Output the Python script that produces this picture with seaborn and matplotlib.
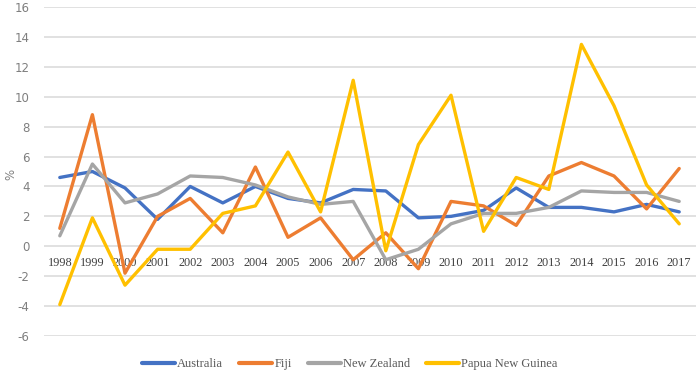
import pandas as pd
import matplotlib.pyplot as plt
import seaborn as sns

years = list(range(1998, 2018))
australia = [4.6, 5.0, 3.9, 1.8, 4.0, 2.9, 4.0, 3.2, 2.9, 3.8, 3.7, 1.9, 2.0, 2.4, 3.9, 2.6, 2.6, 2.3, 2.8, 2.3]
fiji = [1.2, 8.8, -1.8, 2.0, 3.2, 0.9, 5.3, 0.6, 1.9, -0.9, 0.9, -1.5, 3.0, 2.7, 1.4, 4.7, 5.6, 4.7, 2.5, 5.2]
new_zealand = [0.7, 5.5, 2.9, 3.5, 4.7, 4.6, 4.1, 3.3, 2.8, 3.0, -0.9, -0.2, 1.5, 2.2, 2.2, 2.6, 3.7, 3.6, 3.6, 3.0]
png = [-3.9, 1.9, -2.6, -0.2, -0.2, 2.2, 2.7, 6.3, 2.3, 11.1, -0.3, 6.8, 10.1, 1.0, 4.6, 3.8, 13.5, 9.4, 4.1, 1.5]

countries = ["Australia", "Fiji", "New Zealand", "Papua New Guinea"]
colors = ["#4472C4", "#ED7D31", "#A5A5A5", "#FFC000"]

df = pd.DataFrame({"year": years, "Australia": australia, "Fiji": fiji,
                   "New Zealand": new_zealand, "Papua New Guinea": png})
long_df = df.melt(id_vars="year", var_name="country", value_name="value")

sns.set_style("white")
plt.rcParams["axes.unicode_minus"] = False
fig = plt.figure(figsize=(7, 3.75), dpi=100)
ax = fig.add_axes([43.5 / 700, 1 - 336 / 375, (695.5 - 43.5) / 700, (336 - 7) / 375])

sns.lineplot(data=long_df, x="year", y="value", hue="country", hue_order=countries,
             palette=colors, linewidth=2.4, ax=ax, legend=True)

ax.set_xlim(1997.5, 2017.5)
ax.set_ylim(-6, 16)
ax.set_yticks(range(-6, 17, 2))
ax.set_xticks(years)
ax.grid(axis="y", color="#d9d9d9", linewidth=1.1)
ax.set_axisbelow(True)
for s in ["left", "right", "top"]:
    ax.spines[s].set_visible(False)
ax.spines["bottom"].set_position(("data", 0))
ax.spines["bottom"].set_visible(False)

ax.tick_params(axis="x", length=0, pad=8, labelsize=8.8, labelcolor="#404040")
for lbl in ax.get_xticklabels():
    lbl.set_fontfamily("Liberation Serif")
ax.tick_params(axis="y", length=0, pad=10, labelsize=8.5, labelcolor="#7f7f7f")
for lbl in ax.get_yticklabels():
    lbl.set_fontfamily("DejaVu Sans")

ax.set_xlabel("")
ax.set_ylabel("%", fontsize=8.5, color="#7f7f7f")
ax.yaxis.set_label_coords(-0.040, 0.49)

leg = ax.legend(loc="center", bbox_to_anchor=(0.5, (375 - 364) / 375), bbox_transform=fig.transFigure,
                ncol=4, frameon=False, handlelength=2.6, handletextpad=0.2, columnspacing=1.3,
                prop={"family": "Liberation Serif", "size": 9})
for t in leg.get_texts():
    t.set_color("#595959")
for line in leg.get_lines():
    line.set_linewidth(3)

fig.savefig("out.png", dpi=100)
